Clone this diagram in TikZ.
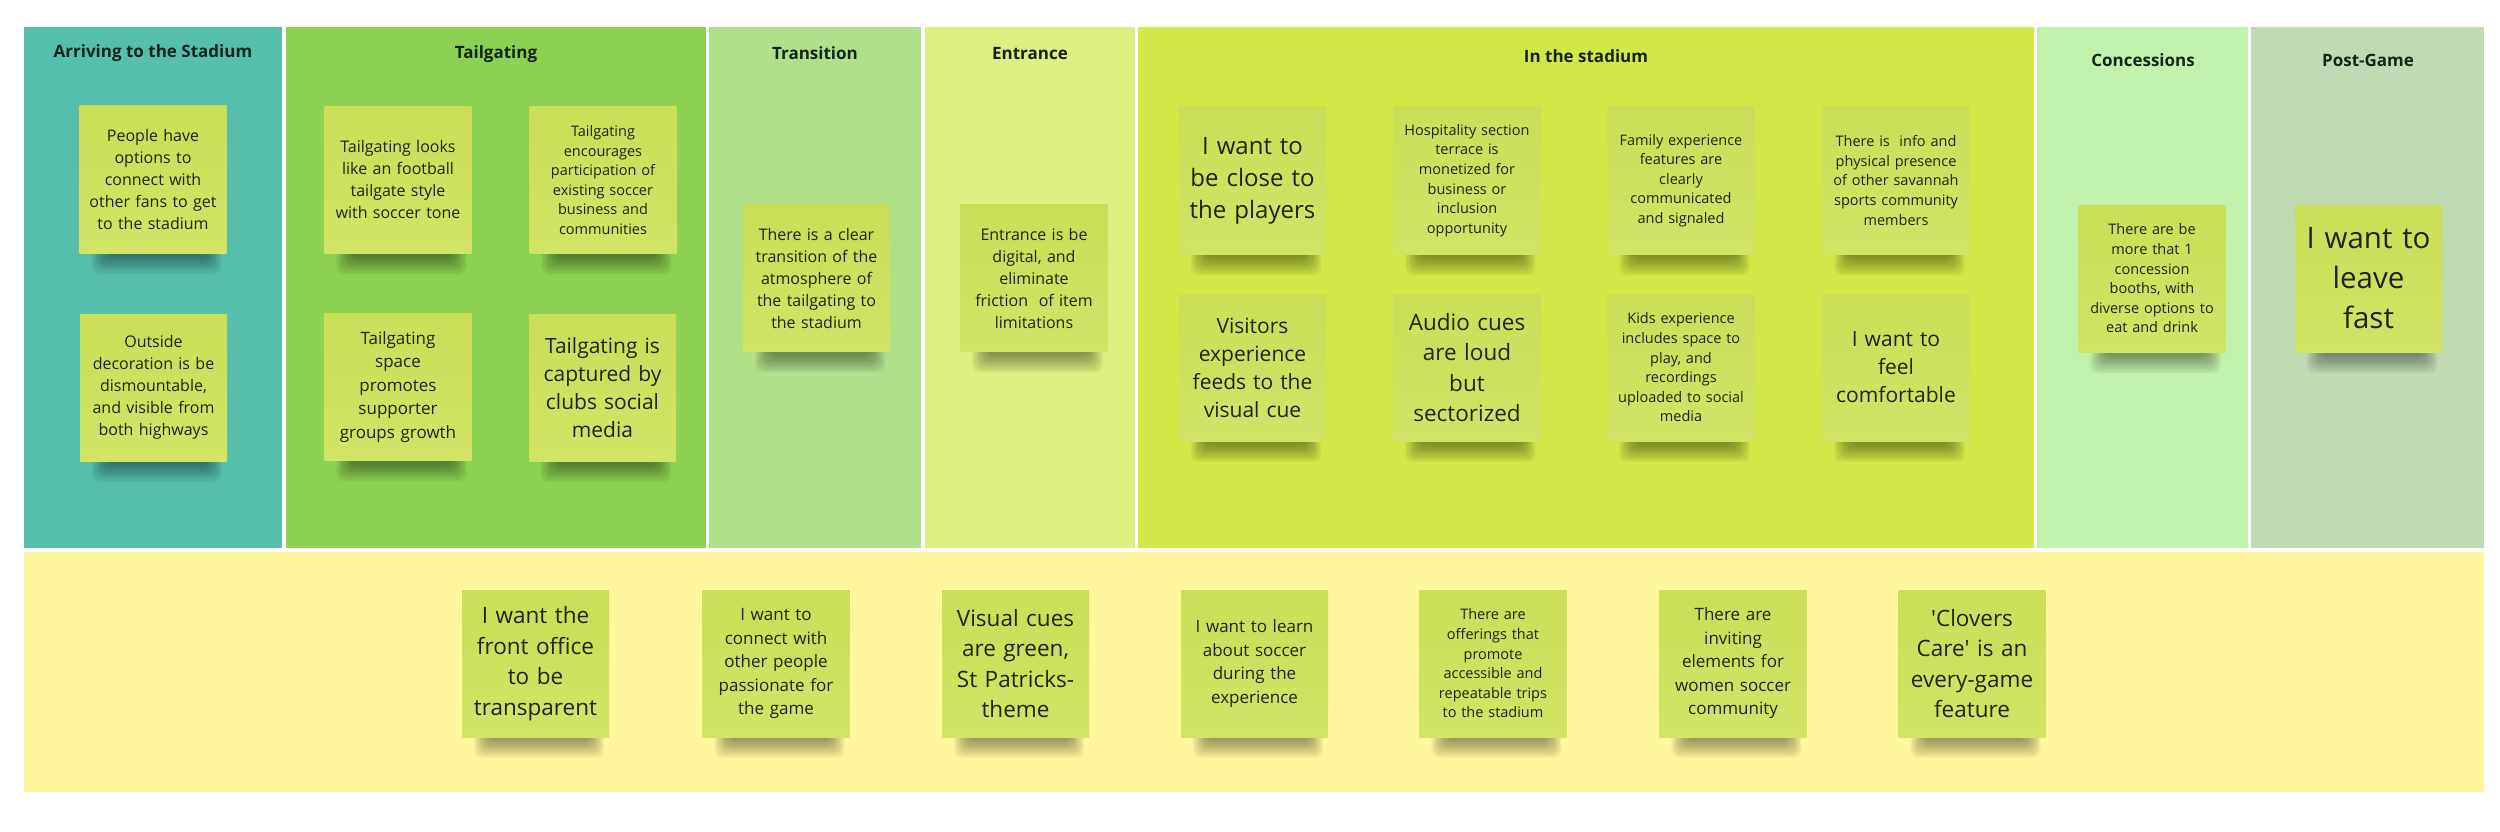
\documentclass[tikz,border=0pt]{standalone}
\usepackage{fontspec}
\setmainfont{Open Sans}
\usetikzlibrary{calc}
\definecolor{cteal}{HTML}{56BFAC}
\definecolor{ctail}{HTML}{8DD152}
\definecolor{ctrans}{HTML}{B1DF8A}
\definecolor{centr}{HTML}{DEEE80}
\definecolor{cstad}{HTML}{D1E846}
\definecolor{cconc}{HTML}{C1F1AA}
\definecolor{cpost}{HTML}{C0DAB4}
\definecolor{cyell}{HTML}{FFF79D}
\definecolor{cstickytop}{HTML}{CADE58}
\definecolor{cstickybot}{HTML}{D1E466}
\definecolor{cink}{HTML}{1E2418}
\definecolor{ctitle}{HTML}{14241A}
\newcommand\fsz[2]{\fontsize{#1}{#2}\selectfont}
\pgfdeclarelayer{cols}
\pgfdeclarelayer{shad}
\pgfsetlayers{cols,shad,main}
\begin{document}
\begin{tikzpicture}[x=1pt,y=-1pt,
  sticky/.style={top color=cstickytop, bottom color=cstickybot, minimum width=147pt, minimum height=147pt,
    text width=142pt, align=center, inner sep=0pt, text=cink},
  coltitle/.style={font=\fsz{17}{20}\bfseries, text=ctitle, inner sep=0pt, anchor=center},
  ftiny/.style={font=\fsz{14.5}{19.6}},
  fsmall/.style={font=\fsz{16}{22}},
  fmid/.style={font=\fsz{17}{23.5}},
  flarge/.style={font=\fsz{21}{28}},
  fxl/.style={font=\fsz{22.5}{30.6}},
  fxxl/.style={font=\fsz{24}{32}},
  fhuge/.style={font=\fsz{29.5}{40}}]
\useasboundingbox (0,0) rectangle (2500,832);

\begin{pgfonlayer}{cols}
\fill[white] (0,0) rectangle (2500,832);
\fill[cteal]  (24,27)   rectangle (282,548);
\fill[ctail]  (286,27)  rectangle (706,548);
\fill[ctrans] (709,27)  rectangle (921,548);
\fill[centr]  (925,27)  rectangle (1135,548);
\fill[cstad]  (1138,27) rectangle (2034,548);
\fill[cconc]  (2037,27) rectangle (2248,548);
\fill[cpost]  (2251,27) rectangle (2484,548);
\fill[cyell]  (24,552)  rectangle (2484,792);
\end{pgfonlayer}

% titles
\node[coltitle] (t1) at (153,53)  {Arriving to the Stadium};
\node[coltitle] (t2) at (496,54)  {Tailgating};
\node[coltitle] (t3) at (815,53)  {Transition};
\node[coltitle] (t4) at (1030,54) {Entrance};
\node[coltitle] (t5) at (1586,56) {In the stadium};
\node[coltitle] (t6) at (2143,60) {Concessions};
\node[coltitle] (t7) at (2368,60) {Post-Game};

% Arriving
\node[sticky,fsmall] (s1) at (153,179.5) {People have\\options to\\connect with\\other fans to get\\to the stadium};
\node[sticky,fsmall] (s2) at (153.5,387.5) {Outside\\decoration is be\\dismountable,\\and visible from\\both highways};
% Tailgating
\node[sticky,fsmall] (s3) at (398,180) {Tailgating looks\\like an football\\tailgate style\\with soccer tone};
\node[sticky,ftiny] (s4) at (603,180) {Tailgating\\encourages\\participation of\\existing soccer\\business and\\communities};
\node[sticky,fmid] (s5) at (398,387) {Tailgating\\space\\promotes\\supporter\\groups growth};
\node[sticky,flarge] (s6) at (602.5,387.5) {Tailgating is\\captured by\\clubs social\\media};
% Transition / Entrance
\node[sticky,fsmall] (s7) at (816.5,278) {There is a clear\\transition of the\\atmosphere of\\the tailgating to\\the stadium};
\node[sticky,fsmall] (s8) at (1034,278) {Entrance is be\\digital, and\\eliminate\\friction\ \ of item\\limitations};
% In the stadium
\node[sticky,fxxl] (s9) at (1252.5,180.5) {I want to\\be close to\\the players};
\node[sticky,ftiny] (s10) at (1467,180.5) {Hospitality section\\terrace is\\monetized for\\business or\\inclusion\\opportunity};
\node[sticky,ftiny] (s11) at (1681,180.5) {Family experience\\features are\\clearly\\communicated\\and signaled};
\node[sticky,ftiny] (s12) at (1896,180.5) {There is\ \ info and\\physical presence\\of other savannah\\sports community\\members};
\node[sticky,flarge] (s13) at (1252.5,367.5) {Visitors\\experience\\feeds to the\\visual cue};
\node[sticky,fxl] (s14) at (1467,367.5) {Audio cues\\are loud\\but\\sectorized};
\node[sticky,ftiny] (s15) at (1681,367.5) {Kids experience\\includes space to\\play, and\\recordings\\uploaded to social\\media};
\node[sticky,flarge] (s16) at (1896,367.5) {I want to\\feel\\comfortable};
% Concessions / Post-Game
\node[sticky,ftiny] (s17) at (2152,278.5) {There are be\\more that 1\\concession\\booths, with\\diverse options to\\eat and drink};
\node[sticky,fhuge] (s18) at (2368.5,278.5) {I want to\\leave\\fast};
% bottom band
\node[sticky,fxl]  (s19) at (535.5,663.5)  {I want the\\front office\\to be\\transparent};
\node[sticky,fmid] (s20) at (776,663.5)    {I want to\\connect with\\other people\\passionate for\\the game};
\node[sticky,fxl]  (s21) at (1015.5,663.5) {Visual cues\\are green,\\St Patricks-\\theme};
\node[sticky,fmid] (s22) at (1254.5,663.5) {I want to learn\\about soccer\\during the\\experience};
\node[sticky,ftiny] (s23) at (1493,663.5)  {There are\\offerings that\\promote\\accessible and\\repeatable trips\\to the stadium};
\node[sticky,fmid] (s24) at (1733,663.5)   {There are\\inviting\\elements for\\women soccer\\community};
\node[sticky,fxl]  (s25) at (1972,663.5)   {\textquotesingle Clovers\\Care\textquotesingle\ is an\\every-game\\feature};

% soft shadows under the notes
\begin{pgfonlayer}{shad}
\foreach \n in {s1,s2,s3,s4,s5,s6,s7,s8,s9,s10,s11,s12,s13,s14,s15,s16,s17,s18,s19,s20,s21,s22,s23,s24,s25}{
  \foreach \k in {0,...,9}{
    \fill[black,opacity=0.042,rounded corners=8pt]
      ($(\n.south west)+(12+1.6*\k,-12)$) rectangle ($(\n.south east)+(-5-1.6*\k,21-1.9*\k)$);
  }
}
\end{pgfonlayer}
\end{tikzpicture}
\end{document}
